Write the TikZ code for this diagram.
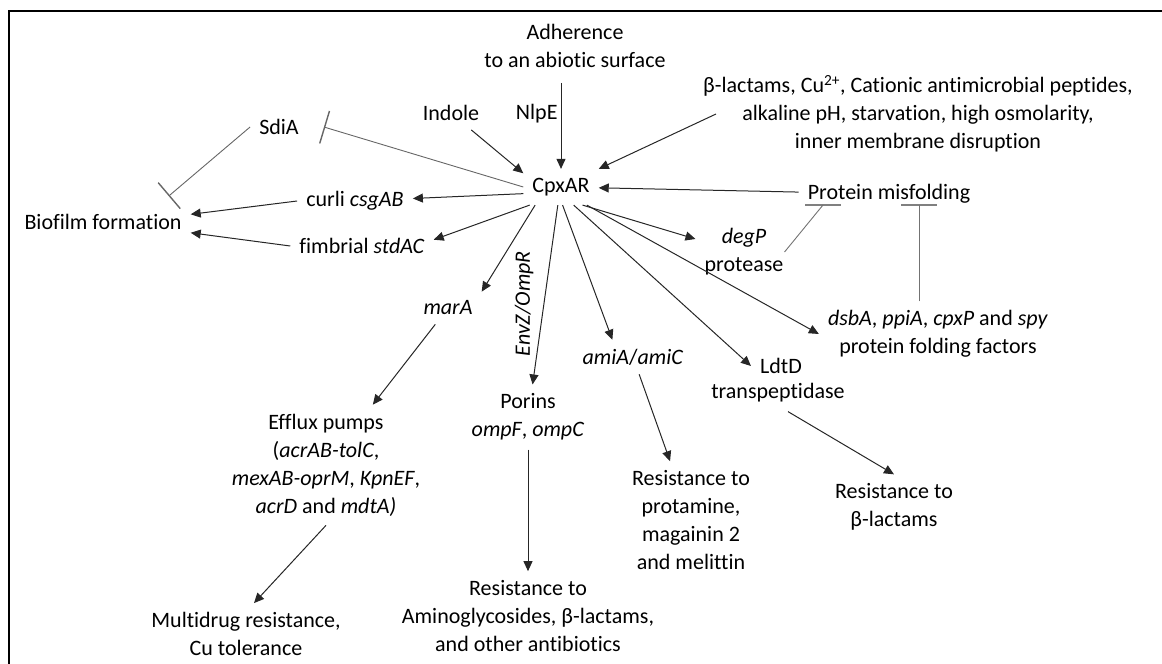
\documentclass[tikz,border=0pt]{standalone}
\usepackage{fontspec}
\setmainfont{Carlito}[Ligatures=CommonOff]
\usetikzlibrary{arrows.meta}

\begin{document}
\begin{tikzpicture}[x=1pt, y=-1pt,
    txt/.style={font=\fontsize{22}{28}\selectfont, align=center, inner sep=9pt},
    arr/.style={draw=black!85, line width=1pt, -{Triangle[length=10pt,width=9pt]}},
    inh/.style={draw=black!60, line width=0.9pt, -{Bar[width=34pt,line width=1.4pt]}},
    thinline/.style={draw=black!55, line width=0.9pt},
    underbar/.style={draw=black!50, line width=1.8pt}]
  \useasboundingbox (0,0) rectangle (1162,664);
  \draw[line width=1.6pt] (9,664) -- (9,11) -- (1162,11);

  % signals into CpxAR
  \node[txt] at (575,46)  (adh) {Adherence\\to an abiotic surface};
  \node[txt] at (451,113) (ind) {Indole};
  \node[txt] at (561,187) (cpx) {CpxAR};
  \node[txt] at (918,114) (bla) {β-lactams, Cu\textsuperscript{2+}, Cationic antimicrobial peptides,\\alkaline pH, starvation, high osmolarity,\\inner membrane disruption};
  \node[txt] at (889,194) (pmf) {Protein misfolding};
  \coordinate (pmL) at (823,205);
  \coordinate (pmR) at (919,205);

  % biofilm side
  \node[txt] at (279,127) (sdia) {SdiA};
  \node[txt] at (103,222) (bio)  {Biofilm formation};
  \node[txt] at (355,201) (cur)  {curli \textit{csgAB}};
  \node[txt] at (362,246) (fim)  {fimbrial \textit{stdAC}};

  % targets
  \node[txt] at (448,308) (mar) {\textit{marA}};
  \node[txt] at (326,465) (eff) {Efflux pumps\\(\textit{acrAB-tolC},\\\textit{mexAB-oprM}, \textit{KpnEF},\\\textit{acrD} and \textit{mdtA)}};
  \node[txt] at (246,634) (mdr) {Multidrug resistance,\\Cu tolerance};
  \node[txt] at (528,417) (por) {Porins\\\textit{ompF}, \textit{ompC}};
  \node[txt] at (528,616) (rag) {Resistance to\\Aminoglycosides, β-lactams,\\and other antibiotics};
  \node[txt] at (633,357) (ami) {\textit{amiA}/\textit{amiC}};
  \node[txt] at (691,520) (rpm) {Resistance to\\protamine,\\magainin 2\\and melittin};
  \node[txt] at (781,366) (ldt) {LdtD};
  \node[txt] at (778,393) (tpd) {transpeptidase};
  \node[txt] at (894,507) (rbl) {Resistance to\\β-lactams};
  \node[txt] at (744,252) (deg) {\textit{degP}\\protease};
  \node[txt] at (938,334) (dsb) {\textit{dsbA}, \textit{ppiA}, \textit{cpxP} and \textit{spy}\\protein folding factors};

  \draw[arr, shorten <=6pt] (adh.south -| cpx.north) -- (cpx.north)
    node[txt, pos=0.4, anchor=east, inner sep=3pt] (nlp) {NlpE};
  \draw[arr] (ind) -- (cpx.160);
  \draw[arr] ([xshift=22pt]bla.west) -- (cpx.north east);
  \draw[arr] (pmf) -- (cpx);

  \draw[inh] (cpx.west) -- ([xshift=16pt]sdia.east);
  \draw[inh] (sdia.west) -- ([xshift=-22pt,yshift=9pt]bio.north east);
  \draw[arr] (cpx.190) -- (cur);
  \draw[arr] (cpx.-150) -- (fim.5);
  \draw[arr] (cur.west) -- (bio.5);
  \draw[arr] (fim.west) -- (bio.-7);

  \draw[arr] (cpx.-145) -- (mar.north east);
  \draw[arr] (mar) -- (eff);
  \draw[arr] (eff.south) -- ([xshift=8pt]mdr.north);
  \draw[arr] (cpx.-100) -- (por)
    node[txt, pos=0.55, rotate=90, anchor=south, inner sep=10pt] (env) {\textit{EnvZ/OmpR}};
  \draw[arr] (por) -- (rag);
  \draw[arr] (cpx.-85) -- (ami.140);
  \draw[arr] (ami) -- (rpm);
  \draw[arr] (cpx.-55) -- (ldt.west);
  \draw[arr] ([xshift=10pt]tpd.south) -- (rbl.north);
  \draw[arr] (cpx.-40) -- (deg.165);
  \draw[arr] (cpx.-35) -- (dsb.west);

  % protein misfolding blocks
  \draw[underbar] ([xshift=-18pt]pmL) -- ([xshift=18pt]pmL);
  \draw[underbar] ([xshift=-18pt]pmR) -- ([xshift=18pt]pmR);
  \draw[thinline] ([xshift=-8pt]deg.east) -- (pmL);
  \draw[thinline] (dsb.north -| pmR) -- (pmR);
\end{tikzpicture}
\end{document}
